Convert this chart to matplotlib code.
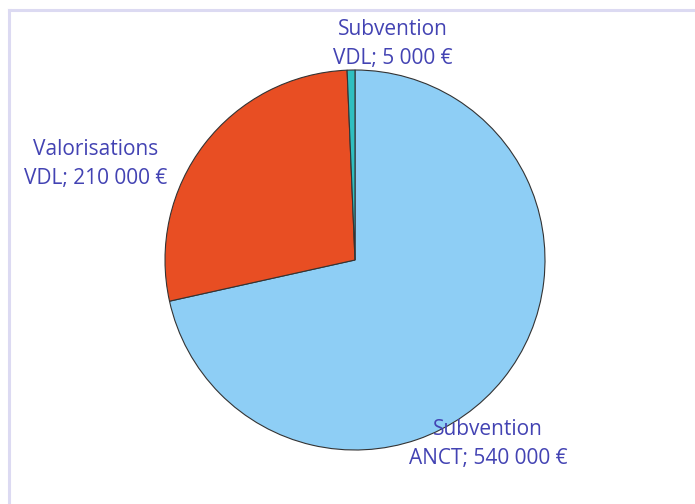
import matplotlib
matplotlib.use("Agg")
import matplotlib.pyplot as plt
from matplotlib.lines import Line2D

categories = ["Subvention\nANCT", "Valorisations\nVDL", "Subvention\nVDL"]
values = [540000, 210000, 5000]
colors = ["#8ECEF5", "#E84E23", "#2FBFC0"]

W, H = 695, 504
fig = plt.figure(figsize=(W / 100, H / 100), dpi=100)
fig.patch.set_facecolor("white")

# border lines (top and left)
fig.add_artist(Line2D([8.5 / W, 1], [1 - 9.5 / H, 1 - 9.5 / H], color="#DCDAF2", lw=2.2, transform=fig.transFigure))
fig.add_artist(Line2D([8.5 / W, 8.5 / W], [0, 1 - 9.5 / H], color="#DCDAF2", lw=2.2, transform=fig.transFigure))

cx, cy, r = 355, 260, 190
ax = fig.add_axes([(cx - r) / W, (H - cy - r) / H, 2 * r / W, 2 * r / H])
ax.pie(values, colors=colors, startangle=90, counterclock=False,
       wedgeprops=dict(edgecolor="#333333", linewidth=0.8))
ax.set_xlim(-1, 1)
ax.set_ylim(-1, 1)
ax.set_aspect("equal")
ax.axis("off")

def fmt(v):
    return f"{v:,}".replace(",", " ") + " €"

label_pos = [(488, 444), (96, 164), (393, 44)]
txt_color = "#4343B3"
for cat, v, (px, py) in zip(categories, values, label_pos):
    fig.text(px / W, 1 - py / H, f"{cat}; {fmt(v)}", ha="center", va="center",
             fontsize=15, color=txt_color, family=["Open Sans", "DejaVu Sans"],
             linespacing=1.45)

fig.savefig("out.png", dpi=100)
